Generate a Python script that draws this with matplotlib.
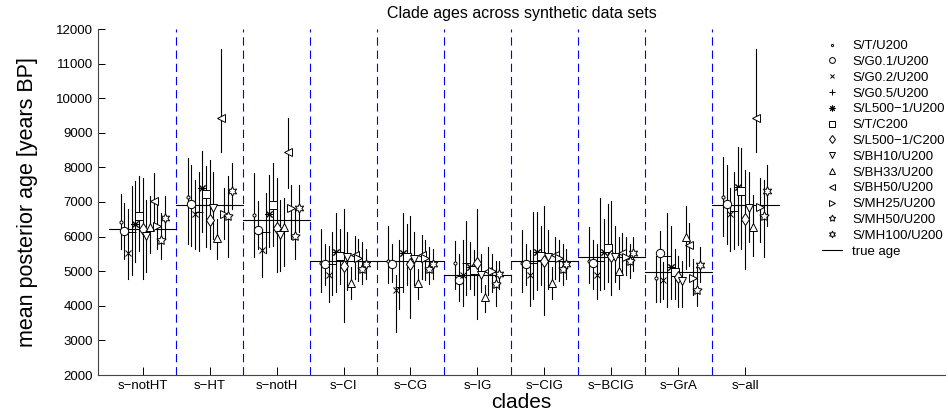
import numpy as np
import matplotlib.pyplot as plt

plt.rcParams['font.family'] = ['Liberation Sans', 'DejaVu Sans']
plt.rcParams['lines.scale_dashes'] = False

clades = ['s−notHT', 's−HT', 's−notH', 's−CI', 's−CG', 's−IG', 's−CIG', 's−BCIG', 's−GrA', 's−all']
series = ['S/T/U200', 'S/G0.1/U200', 'S/G0.2/U200', 'S/G0.5/U200', 'S/L500−1/U200', 'S/T/C200',
          'S/L500−1/C200', 'S/BH10/U200', 'S/BH33/U200', 'S/BH50/U200', 'S/MH25/U200',
          'S/MH50/U200', 'S/MH100/U200']
true_age = [6210, 6910, 6470, 5290, 5290, 4880, 5290, 5420, 4990, 6910]

# mean posterior age per series, one list per clade
mean_notHT = [6420, 6160, 5540, 6120, 6350, 6590, 6230, 6020, 6290, 7020, 6310, 5910, 6530]
mean_HT = [7140, 6930, 6640, 6720, 7410, 7220, 6480, 6830, 5950, 9440, 6640, 6590, 7310]
mean_notH = [6620, 6180, 5620, 6120, 6640, 6900, 6260, 6050, 6290, 8440, 6830, 6020, 6820]
mean_CI = [5250, 5210, 4900, 5210, 5560, 5430, 5160, 5400, 4660, 5480, 5370, 5070, 5210]
mean_CG = [5300, 5210, 4470, 4540, 5540, 5400, 5210, 5350, 4660, 5480, 5370, 5070, 5210]
mean_IG = [5230, 4750, 4890, 5230, 5110, 5040, 5230, 4880, 4250, 5000, 5000, 4620, 4920]
mean_CIG = [5250, 5210, 4900, 5240, 5560, 5430, 5290, 5400, 4660, 5480, 5370, 5070, 5210]
mean_BCIG = [5300, 5230, 4900, 5300, 5560, 5670, 5450, 5420, 5020, 5530, 5420, 5290, 5540]
mean_GrA = [4810, 5520, 4750, 5430, 5130, 4970, 4830, 4730, 5990, 5760, 4810, 4470, 5190]
mean_all = [7150, 6930, 6640, 6740, 7430, 7310, 6500, 6830, 6290, 9440, 6860, 6590, 7330]

# lower / upper ends of the bars
lo_notHT = [5640, 5350, 4780, 4880, 5260, 5590, 4780, 4970, 5540, 6210, 5640, 5350, 5930]
hi_notHT = [7220, 6980, 6790, 7450, 7600, 7760, 7690, 7070, 7170, 7840, 6980, 6690, 7170]
lo_HT = [5780, 5740, 5640, 5590, 6120, 5690, 5640, 5930, 5350, 8450, 5930, 5400, 6790]
hi_HT = [8270, 8080, 7650, 7880, 8460, 8030, 8220, 7880, 6500, 11430, 7410, 7740, 8120]
lo_notH = [5400, 5640, 4830, 5540, 5690, 5740, 4970, 5020, 5160, 7410, 5930, 5350, 6120]
hi_notH = [7840, 7020, 6210, 7260, 7790, 8120, 7690, 7070, 7120, 9440, 7500, 6790, 7500]
lo_CI = [4400, 4590, 4110, 4300, 4400, 4640, 3540, 4450, 4210, 4780, 4730, 4640, 4780]
hi_CI = [6220, 5780, 5740, 6120, 6690, 6210, 6790, 6120, 5110, 6020, 5930, 5830, 5640]
lo_CG = [4650, 4680, 3250, 3900, 4400, 4600, 3650, 4600, 4210, 4780, 4750, 4640, 4780]
hi_CG = [6300, 5780, 4880, 5900, 6690, 6350, 6600, 6120, 5070, 6050, 5900, 5700, 5640]
lo_IG = [4500, 4150, 4000, 4300, 4500, 4300, 3630, 4400, 3820, 4300, 4400, 4000, 4500]
hi_IG = [5880, 5500, 5900, 6450, 5830, 5600, 6790, 5500, 4590, 5700, 5500, 5300, 5300]
lo_CIG = [4400, 4600, 4000, 4200, 4450, 4600, 3730, 4500, 4210, 4780, 4730, 4600, 4780]
hi_CIG = [6200, 5800, 5600, 6700, 6700, 6300, 6880, 6200, 5110, 6000, 5900, 5800, 5640]
lo_BCIG = [4650, 4500, 4200, 4450, 4500, 4700, 4300, 4700, 4500, 4900, 4900, 4800, 5000]
hi_BCIG = [6270, 5900, 5800, 7130, 6500, 6950, 7020, 6300, 6000, 6100, 6000, 5800, 6000]
lo_GrA = [4110, 4110, 4210, 3970, 4200, 4210, 3970, 3970, 5070, 5160, 4300, 4000, 4680]
hi_GrA = [5450, 6160, 5260, 6690, 6300, 5640, 5450, 5300, 6880, 6400, 5350, 5200, 5690]
lo_all = [6020, 5780, 5590, 5640, 5750, 5650, 5060, 5830, 5450, 8440, 5850, 5400, 6300]
hi_all = [8310, 8080, 7410, 7880, 8600, 8550, 7930, 7880, 7200, 11430, 7700, 7640, 8080]

means = [mean_notHT, mean_HT, mean_notH, mean_CI, mean_CG, mean_IG, mean_CIG, mean_BCIG, mean_GrA, mean_all]
lows = [lo_notHT, lo_HT, lo_notH, lo_CI, lo_CG, lo_IG, lo_CIG, lo_BCIG, lo_GrA, lo_all]
highs = [hi_notHT, hi_HT, hi_notH, hi_CI, hi_CG, hi_IG, hi_CIG, hi_BCIG, hi_GrA, hi_all]

markers = ['.', 'o', 'x', '+', (8, 2, 0), 's', 'd', 'v', '^', '<', '>', (5, 1, 0), (6, 1, 0)]
msizes = [4.5, 6, 5, 6, 6, 5.5, 6.5, 6, 6, 6, 6, 7, 7]

fig = plt.figure(figsize=(9.48, 4.16), dpi=100)
ax = fig.add_axes([98 / 948, 41 / 416, 847 / 948, 346 / 416])

pos = np.arange(1, len(clades) + 1)
offsets = np.linspace(-0.33, 0.33, len(series))

for i in range(len(clades)):
    ax.plot([pos[i] - 0.5, pos[i] + 0.5], [true_age[i]] * 2, color='k', lw=0.8, zorder=2)
    for j in range(len(series)):
        x = pos[i] + offsets[j]
        ax.plot([x, x], [lows[i][j], highs[i][j]], color='k', lw=0.8, zorder=3)

handles = []
for j in range(len(series)):
    xs = pos + offsets[j]
    ys = [means[i][j] for i in range(len(clades))]
    h, = ax.plot(xs, ys, ls='none', marker=markers[j], ms=msizes[j], mec='k', mfc='white',
                 mew=0.7, zorder=4, label=series[j])
    handles.append(h)
h_true, = ax.plot([], [], color='k', lw=0.8, label='true age')
handles.append(h_true)

for b in pos[:-1] + 0.5:
    ax.axvline(b, color='#0000ff', lw=0.8, ls=(0, (6, 3.5)), zorder=1)

ax.set_xlim(1 - 44.7 / 66.94, 1 - 44.7 / 66.94 + 847 / 66.94)
ax.set_ylim(2000, 12000)
ax.set_yticks(np.arange(2000, 12001, 1000))
ax.set_xticks(pos)
ax.set_xticklabels(clades)
ax.set_xticks(pos[:-1] + 0.5, minor=True)
ax.tick_params(which='both', direction='in', length=6, width=0.7, labelsize=9.5, colors='k')
ax.tick_params(which='minor', color='#0000ff')
ax.tick_params(axis='y', length=5)
for s in ['top', 'right']:
    ax.spines[s].set_visible(False)
for s in ['left', 'bottom']:
    ax.spines[s].set_color('#444444')
    ax.spines[s].set_linewidth(0.8)

ax.set_title('Clade ages across synthetic data sets', fontsize=11.5, pad=8)
ax.set_xlabel('clades', fontsize=15, labelpad=1)
ax.set_ylabel('mean posterior age [years BP]', fontsize=15.5, labelpad=13)

fig.legend(handles=handles, loc='upper left', bbox_to_anchor=(822 / 948, 1 - 40 / 416),
           frameon=False, fontsize=9.5, handlelength=1.5, handletextpad=0.8, markerscale=0.7,
           labelspacing=0.27, borderpad=0, borderaxespad=0)

fig.savefig('out.png', dpi=100)
